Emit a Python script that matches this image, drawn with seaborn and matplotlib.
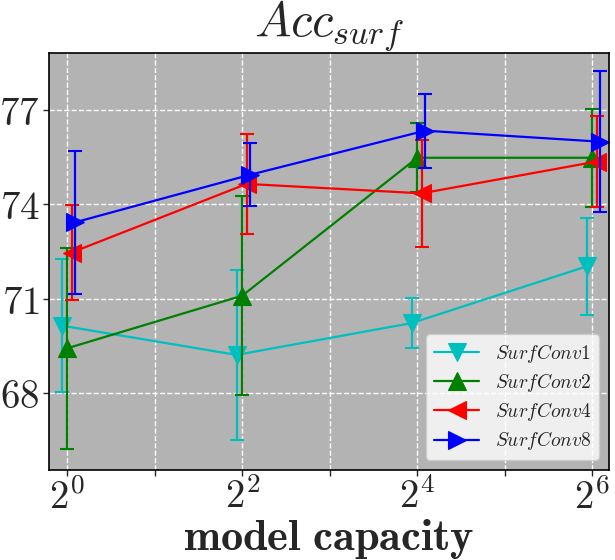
import numpy as np
import pandas as pd
import matplotlib
matplotlib.use("Agg")
import matplotlib.pyplot as plt
import seaborn as sns
from matplotlib.ticker import FixedLocator, FixedFormatter, NullFormatter

# ---- data ----
capacity = [1, 4, 16, 64]
series_names = ["SurfConv1", "SurfConv2", "SurfConv4", "SurfConv8"]
conv1_mean = [70.15, 69.22, 70.23, 72.03]
conv1_err = [2.10, 2.70, 0.80, 1.55]
conv2_mean = [69.43, 71.10, 75.48, 75.48]
conv2_err = [3.20, 3.15, 1.10, 1.55]
conv4_mean = [72.47, 74.65, 74.35, 75.36]
conv4_err = [1.50, 1.60, 1.70, 1.45]
conv8_mean = [73.43, 74.94, 76.34, 75.99]
conv8_err = [2.27, 1.00, 1.17, 2.24]
x_tick_values = [1, 4, 16, 64]
x_tick_labels = [r"$2^{0}$", r"$2^{2}$", r"$2^{4}$", r"$2^{6}$"]
x_minor_values = [2, 8, 32]
y_tick_values = [68, 71, 74, 77]
y_tick_labels = [r"$68$", r"$71$", r"$74$", r"$77$"]

# style
colors = ["c", "g", "r", "b"]
markers = ["v", "^", "<", ">"]
dodge = [2 ** -0.064, 1.0, 2 ** 0.05, 2 ** 0.09]

sns.set_style("ticks", rc={
    "axes.facecolor": "#b3b3b3",
    "axes.edgecolor": "black",
    "grid.color": "white",
    "grid.linestyle": "--",
})
plt.rcParams["mathtext.fontset"] = "cm"
plt.rcParams["font.family"] = ["DejaVu Sans"]

fig, ax = plt.subplots(figsize=(6.15, 5.6), dpi=100)
fig.subplots_adjust(left=0.080, right=0.990, top=0.905, bottom=0.161)

means = [conv1_mean, conv2_mean, conv4_mean, conv8_mean]
errs = [conv1_err, conv2_err, conv4_err, conv8_err]

for name, m, e, c, mk, d in zip(series_names, means, errs, colors, markers, dodge):
    xs = [v * d for v in capacity]
    df = pd.DataFrame({"x": xs, "y": m})
    sns.lineplot(data=df, x="x", y="y", color=c, marker=mk, markersize=13,
                 markeredgewidth=0.8, markeredgecolor=c, linewidth=1.6,
                 label=r"$%s$" % name, ax=ax)
    ax.errorbar(xs, m, yerr=e, fmt="none", ecolor=c, elinewidth=1.6,
                capsize=5, capthick=1.5)

ax.set_xscale("log", base=2)
ax.set_xlim(2 ** -0.206, 2 ** 6.19)
ax.set_ylim(65.57, 78.8)

ax.xaxis.set_major_locator(FixedLocator(x_tick_values))
ax.xaxis.set_major_formatter(FixedFormatter(x_tick_labels))
ax.xaxis.set_minor_locator(FixedLocator(x_minor_values))
ax.xaxis.set_minor_formatter(NullFormatter())
ax.yaxis.set_major_locator(FixedLocator(y_tick_values))
ax.yaxis.set_major_formatter(FixedFormatter(y_tick_labels))
ax.yaxis.set_minor_locator(FixedLocator([]))

ax.tick_params(axis="both", which="major", labelsize=28, length=4, width=1)
ax.tick_params(axis="y", which="major", pad=3)
ax.tick_params(axis="x", which="major", pad=2)
ax.tick_params(axis="x", which="minor", length=4, width=1)
ax.grid(True, which="both", axis="x", color="white", linestyle="--", linewidth=1)
ax.grid(True, which="major", axis="y", color="white", linestyle="--", linewidth=1)

for s in ax.spines.values():
    s.set_linewidth(1.2)
    s.set_color("black")

ax.set_title(r"$Acc_{surf}$", fontsize=35, pad=8)
ax.set_xlabel(r"$\mathbf{model\ capacity}$", fontsize=32, labelpad=0)
ax.set_ylabel("")

ax.legend(loc="lower right", fontsize=14, framealpha=0.8, facecolor="white",
          edgecolor="#cccccc", fancybox=True, handlelength=2.3, numpoints=1,
          labelspacing=0.32, borderpad=0.4)

fig.savefig("out.png", dpi=100)
